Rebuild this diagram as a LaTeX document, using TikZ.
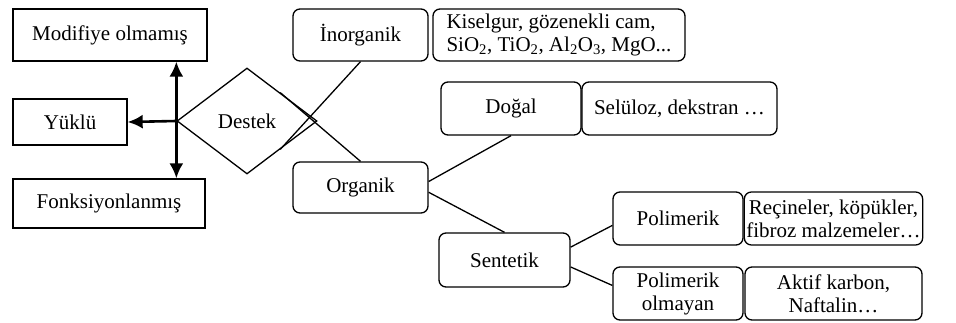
\documentclass[tikz,border=0pt]{standalone}
\usepackage{fontspec}
\setmainfont{Liberation Serif}
\usetikzlibrary{shapes.geometric,arrows.meta,calc}
\tikzset{>={Latex[length=15pt,width=14pt]},every node/.style={font=\fontsize{21}{23}\selectfont},
  box/.style={draw,line width=1.3pt,inner sep=2pt},
  rbox/.style={box,rounded corners=7pt,align=center},
  link/.style={line width=1.3pt},
  fat/.style={line width=2.6pt}}

\begin{document}
\begin{tikzpicture}[x=1pt,y=-1pt]
    \useasboundingbox (0,0) rectangle (956,323);

    % sol taraf
    \foreach \n/\x/\y/\w/\h/\t in {mod/110/35/194/52/Modifiye olmamış,yuklu/70/122/114/46/Yüklü,fonk/109/203.5/192/49/Fonksiyonlanmış}{
    	\node[box,minimum width=\w pt,minimum height=\h pt] (\n) at (\x,\y) {\t};
    }
    \node[draw,diamond,line width=1.3pt,minimum width=140pt,minimum height=106pt,inner sep=0pt] (destek) at (247,121) {Destek};
    \coordinate (hub) at (destek.west);
    \draw[<->,fat] (hub |- mod.south) -- (hub |- fonk.north);
    \draw[->,fat] (hub) -- (yuklu.east);

    % sag taraf
    \node[rbox,minimum width=135pt,minimum height=52pt] (ino) at (360.5,35) {İnorganik};
    \node[rbox,minimum width=252pt,minimum height=52pt,align=left] (kis) at (559,35) {Kiselgur, gözenekli cam,\\SiO\textsubscript{2}, TiO\textsubscript{2}, Al\textsubscript{2}O\textsubscript{3}, MgO...};
    \node[rbox,minimum width=140pt,minimum height=53pt] (dogal) at (511,108.5) {Doğal};
    \node[rbox,minimum width=195pt,minimum height=53pt] (sel) at (679.5,108.5) {Selüloz, dekstran …};
    \node[rbox,minimum width=135pt,minimum height=51pt] (org) at (360.5,187.5) {Organik};
    \node[rbox,minimum width=131pt,minimum height=54pt] (sent) at (504.5,260) {Sentetik};
    \node[rbox,minimum width=130pt,minimum height=53pt] (polim) at (678,218.5) {Polimerik};
    \node[rbox,minimum width=177pt,minimum height=53pt] (rec) at (833.5,218.5) {Reçineler, köpükler,\\fibroz malzemeler…};
    \node[rbox,minimum width=130pt,minimum height=53pt] (polol) at (678,293.5) {Polimerik\\olmayan};
    \node[rbox,minimum width=177pt,minimum height=53pt] (akt) at (833.5,293.5) {Aktif karbon,\\Naftalin…};

    \draw[link] (ino.south) -- ($(destek.east)!0.53!(destek.south)$);
    \draw[link] (org.north) -- ($(destek.east)!0.53!(destek.north)$);
    \draw[link] (org.5) -- (dogal.south);
    \draw[link] (org.-4) -- (sent.north);
    \draw[link] (sent.11) -- (polim.186);
    \draw[link] (sent.-6) -- (polol.173);
\end{tikzpicture}
\end{document}
